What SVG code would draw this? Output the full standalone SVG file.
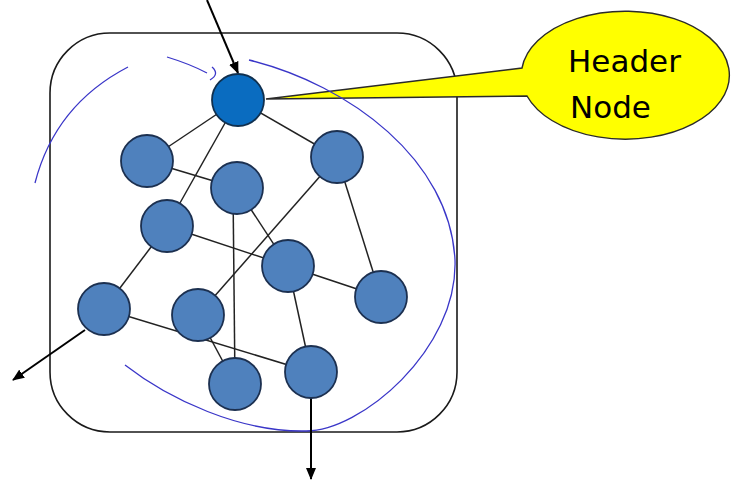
<svg xmlns="http://www.w3.org/2000/svg" width="732" height="482" viewBox="0 0 732 482">
<defs>
<style>
.box{fill:none;stroke:#1a1a1a;stroke-width:1.6}
.arc{fill:none;stroke:#3a36c8;stroke-width:1.3}
.edge{stroke:#222;stroke-width:1.5;fill:none}
.arrow{stroke:#000;stroke-width:2;fill:none;marker-end:url(#ah)}
.node{fill:#4f81bd;stroke:#1c3050;stroke-width:1.8}
.hnode{fill:#0a6cc0;stroke:#10304f;stroke-width:1.8}
.callout{fill:#ffff00;stroke:#2a2a2a;stroke-width:1.4}
.lbl{font-family:"DejaVu Sans",Verdana,sans-serif;font-size:31px;fill:#000}
</style>
<marker id="ah" viewBox="0 0 12 10" refX="11" refY="5" markerWidth="6" markerHeight="5" orient="auto" markerUnits="strokeWidth">
<path d="M0,0 L12,5 L0,10 z" fill="#000"/>
</marker>
</defs>
<rect class="box" x="50" y="33" width="407" height="399" rx="60" ry="60"/>
<g id="callout">
<path class="callout" d="M522,68 A104,64 0 1 1 527,96 L266,99 Z"/>
<text class="lbl" x="568" y="72">Header</text>
<text class="lbl" x="570" y="118">Node</text>
</g>
<g id="arcs">
<path class="arc" d="M35,183 Q55,105 128,67"/>
<path class="arc" d="M167,57 Q190,64 207,73"/>
<path class="arc" d="M212,67 Q220,74 210,80"/>
<path class="arc" d="M249,60 C350,85 450,160 455,260 C458,350 360,432 305,431 C240,432 170,400 125,365"/>
</g>
<g id="connectors">
<line class="edge" x1="238" y1="100" x2="147" y2="161"/>
<line class="edge" x1="238" y1="100" x2="167" y2="226"/>
<line class="edge" x1="238" y1="100" x2="337" y2="157"/>
<line class="edge" x1="147" y1="161" x2="237" y2="188"/>
<line class="edge" x1="237" y1="188" x2="288" y2="266"/>
<line class="edge" x1="233" y1="188" x2="235" y2="384"/>
<line class="edge" x1="337" y1="157" x2="198" y2="315"/>
<line class="edge" x1="337" y1="157" x2="381" y2="297"/>
<line class="edge" x1="167" y1="226" x2="288" y2="266"/>
<line class="edge" x1="167" y1="226" x2="104" y2="309"/>
<line class="edge" x1="288" y1="266" x2="381" y2="297"/>
<line class="edge" x1="288" y1="266" x2="311" y2="372"/>
<line class="edge" x1="104" y1="309" x2="311" y2="372"/>
<line class="edge" x1="198" y1="315" x2="235" y2="384"/>
<line class="arrow" x1="207" y1="0" x2="238" y2="73"/>
<line class="arrow" x1="85" y1="330" x2="13" y2="380"/>
<line class="arrow" x1="311" y1="397" x2="311" y2="479"/>
</g>
<g id="n-header"><circle class="hnode" cx="238" cy="100" r="26"/></g>
<g id="n-a"><circle class="node" cx="147" cy="161" r="26"/></g>
<g id="n-b"><circle class="node" cx="237" cy="188" r="26"/></g>
<g id="n-c"><circle class="node" cx="337" cy="157" r="26"/></g>
<g id="n-d"><circle class="node" cx="167" cy="226" r="26"/></g>
<g id="n-e"><circle class="node" cx="288" cy="266" r="26"/></g>
<g id="n-f"><circle class="node" cx="381" cy="297" r="26"/></g>
<g id="n-g"><circle class="node" cx="104" cy="309" r="26"/></g>
<g id="n-h"><circle class="node" cx="198" cy="315" r="26"/></g>
<g id="n-i"><circle class="node" cx="235" cy="384" r="26"/></g>
<g id="n-j"><circle class="node" cx="311" cy="372" r="26"/></g>
</svg>
